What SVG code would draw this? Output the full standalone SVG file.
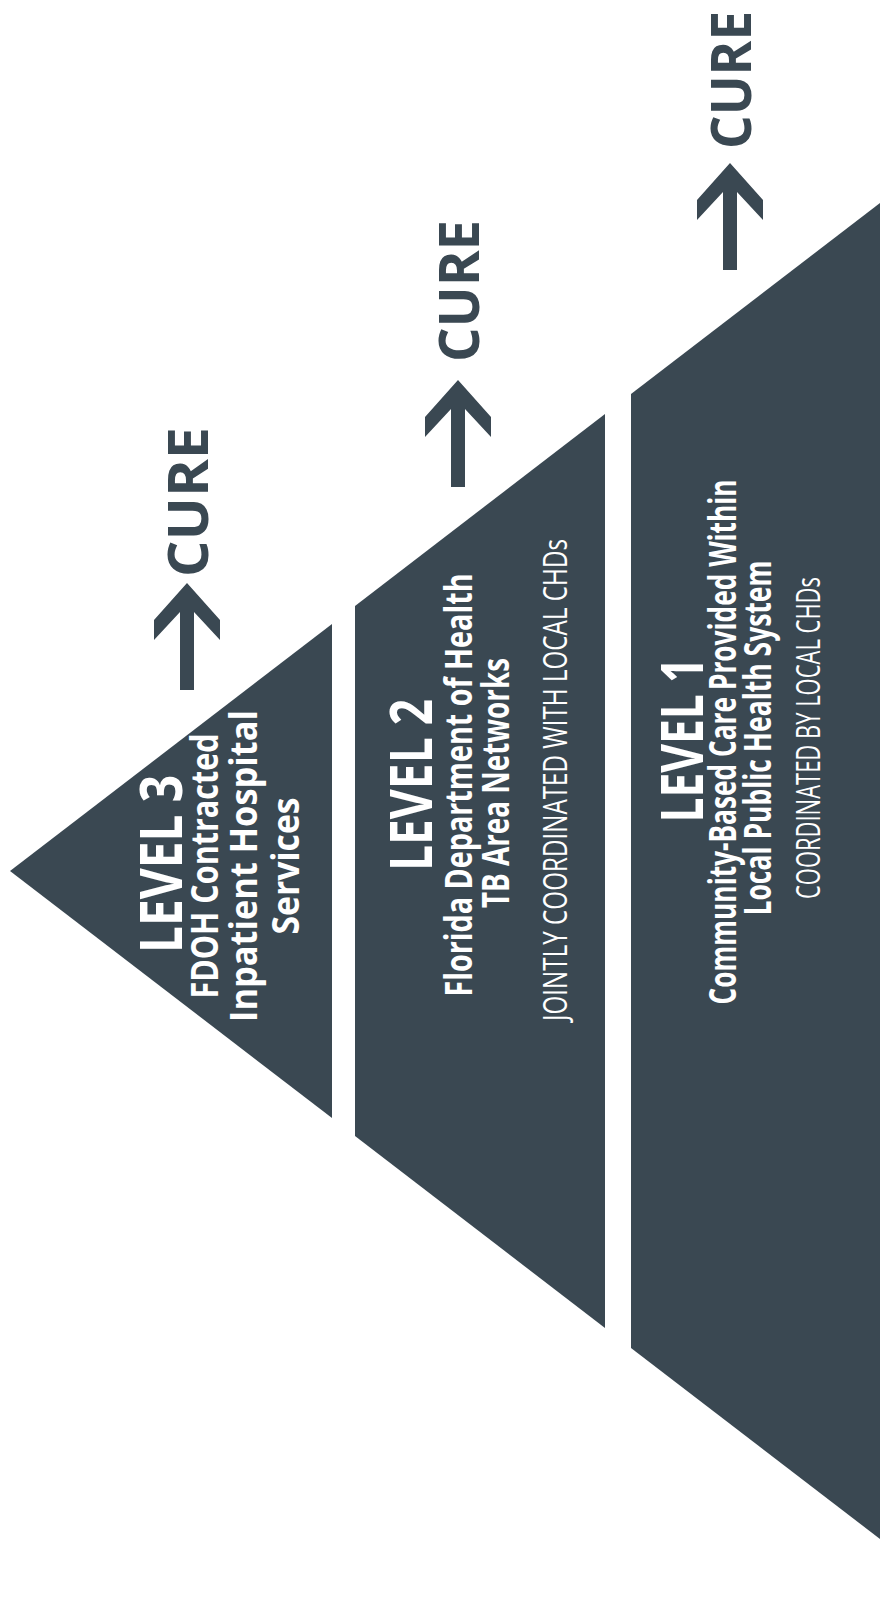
<svg xmlns="http://www.w3.org/2000/svg" width="882" height="1606" viewBox="0 0 882 1606">
<defs>
<style>
.shape{fill:#3a4852}
.t{font-family:"Open Sans","Liberation Sans",sans-serif;text-anchor:middle;fill:#ffffff}
.big{font-size:59px;font-weight:700}
.sub{font-size:38px;font-weight:700}
.note{font-size:32px;font-weight:400}
.cure{font-family:"Open Sans","Liberation Sans",sans-serif;text-anchor:middle;fill:#3a4852;font-size:56px;font-weight:700}
.arrow{fill:#3a4852}
</style>
<path id="arr" d="M0,0 L33,37 L33,57 L7,29 L7,107 L-7,107 L-7,29 L-33,57 L-33,37 Z"/>
</defs>
<rect width="882" height="1606" fill="#ffffff"/>

<g id="level3">
<polygon class="shape" points="10,871 332,624 332,1118"/>
<text class="t big" transform="translate(182,864) rotate(-90)" textLength="178" lengthAdjust="spacingAndGlyphs">LEVEL 3</text>
<text class="t sub" transform="translate(218,866) rotate(-90)" textLength="265" lengthAdjust="spacingAndGlyphs">FDOH Contracted</text>
<text class="t sub" transform="translate(257,866) rotate(-90)" textLength="312" lengthAdjust="spacingAndGlyphs">Inpatient Hospital</text>
<text class="t sub" transform="translate(299,866) rotate(-90)" textLength="137" lengthAdjust="spacingAndGlyphs">Services</text>
</g>

<g id="level2">
<polygon class="shape" points="355,606 605,414 605,1328 355,1136"/>
<text class="t big" transform="translate(432,785) rotate(-90)" textLength="172" lengthAdjust="spacingAndGlyphs">LEVEL 2</text>
<text class="t sub" transform="translate(472,785) rotate(-90)" textLength="423" lengthAdjust="spacingAndGlyphs">Florida Department of Health</text>
<text class="t sub" transform="translate(509,783) rotate(-90)" textLength="250" lengthAdjust="spacingAndGlyphs">TB Area Networks</text>
<text class="t note" transform="translate(567,780) rotate(-90)" textLength="482" lengthAdjust="spacingAndGlyphs">JOINTLY COORDINATED WITH LOCAL CHDs</text>
</g>

<g id="level1">
<polygon class="shape" points="631,394 880,203 880,1539 631,1348"/>
<text class="t big" transform="translate(703,740) rotate(-90)" textLength="165" lengthAdjust="spacingAndGlyphs">LEVEL 1</text>
<text class="t sub" transform="translate(736,742) rotate(-90)" textLength="525" lengthAdjust="spacingAndGlyphs">Community-Based Care Provided Within</text>
<text class="t sub" transform="translate(771,738) rotate(-90)" textLength="355" lengthAdjust="spacingAndGlyphs">Local Public Health System</text>
<text class="t note" transform="translate(820,738) rotate(-90)" textLength="322" lengthAdjust="spacingAndGlyphs">COORDINATED BY LOCAL CHDs</text>
</g>

<g id="cure3">
<use href="#arr" class="arrow" transform="translate(187,583)"/>
<text class="cure" transform="translate(208,502) rotate(-90)" textLength="150" lengthAdjust="spacingAndGlyphs">CURE</text>
</g>
<g id="cure2">
<use href="#arr" class="arrow" transform="translate(458,380)"/>
<text class="cure" transform="translate(479,291) rotate(-90)" textLength="142" lengthAdjust="spacingAndGlyphs">CURE</text>
</g>
<g id="cure1">
<use href="#arr" class="arrow" transform="translate(730,163)"/>
<text class="cure" transform="translate(751,80) rotate(-90)" textLength="138" lengthAdjust="spacingAndGlyphs">CURE</text>
</g>
<g id="connectors"></g>
</svg>
